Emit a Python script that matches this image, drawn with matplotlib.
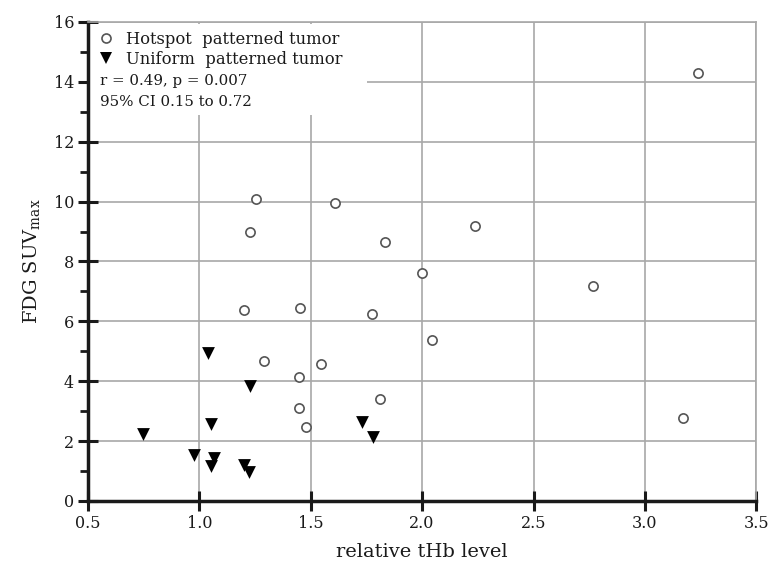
"""FDG SUVmax vs relative tHb level scatter, hotspot vs uniform tumors."""

import matplotlib

matplotlib.use("Agg")
import matplotlib.pyplot as plt  # noqa: E402
from matplotlib.lines import Line2D  # noqa: E402
from matplotlib.patches import Rectangle  # noqa: E402

plt.rcParams["font.family"] = ["DejaVu Serif"]
plt.rcParams["mathtext.fontset"] = "dejavuserif"

# Hotspot patterned tumor (open circles)
hot_thb = [1.256, 1.611, 1.226, 2.238, 1.834, 2.001, 1.202, 1.453, 1.775, 2.046,
           1.290, 1.546, 1.449, 1.449, 1.813, 1.480, 3.24, 2.768, 3.17]
hot_suv = [10.09, 9.96, 8.97, 9.17, 8.64, 7.62, 6.38, 6.45, 6.25, 5.38,
           4.67, 4.58, 4.14, 3.12, 3.39, 2.48, 14.3, 7.19, 2.78]

# Uniform patterned tumor (filled triangles)
uni_thb = [0.748, 0.977, 1.054, 1.067, 1.052, 1.200, 1.223, 1.227, 1.732, 1.778, 1.037]
uni_suv = [2.23, 1.54, 2.56, 1.43, 1.17, 1.20, 0.98, 3.85, 2.63, 2.13, 4.94]

xticks = [0.5, 1.0, 1.5, 2.0, 2.5, 3.0, 3.5]
yticks = [0, 2, 4, 6, 8, 10, 12, 14, 16]

INK = "#1a1a1a"
GRID = "#a8a8a8"

fig = plt.figure(figsize=(7.71, 5.73), dpi=100)
ax = fig.add_axes([0.114, 0.1257, 0.867, 0.836])

ax.scatter(hot_thb, hot_suv, s=44, facecolors="white", edgecolors="#555555",
           linewidths=1.2, zorder=3)
ax.scatter(uni_thb, uni_suv, s=85, marker="v", color="black", linewidths=0, zorder=3)

ax.set_xlim(0.5, 3.5)
ax.set_ylim(0, 16)
ax.set_xticks(xticks)
ax.set_xticklabels([f"{t:.1f}" for t in xticks])
ax.set_yticks(yticks)
ax.set_yticks(range(1, 16, 2), minor=True)

ax.set_axisbelow(True)
ax.grid(True, which="major", color=GRID, linewidth=1.2)

# white patch behind the legend hides the gridlines there
ax.add_patch(Rectangle((0.0, 0.806), 0.418, 0.189, transform=ax.transAxes,
                       facecolor="white", edgecolor="none", zorder=1))

for side in ("left", "bottom"):
    ax.spines[side].set_color(INK)
    ax.spines[side].set_linewidth(2.5)
for side in ("top", "right"):
    ax.spines[side].set_color(GRID)
    ax.spines[side].set_linewidth(1.2)

ax.tick_params(which="major", direction="inout", length=14, width=2.2,
               color=INK, labelcolor=INK, labelsize=11.5, pad=3)
ax.tick_params(which="minor", direction="out", length=6, width=2, color=INK)
ax.tick_params(axis="x", which="major", pad=3)

ax.set_xlabel("relative tHb level", fontsize=14, color=INK, labelpad=8)
ax.set_ylabel("FDG SUV$_{\\mathrm{max}}$", fontsize=14, color=INK, labelpad=8)

handles = [
    Line2D([], [], linestyle="none", marker="o", markersize=6.5,
           markerfacecolor="white", markeredgecolor="#555555", markeredgewidth=1.2),
    Line2D([], [], linestyle="none", marker="v", markersize=9,
           color="black", markeredgewidth=0),
]
leg = ax.legend(handles, ["Hotspot  patterned tumor", "Uniform  patterned tumor"],
                loc="upper left", bbox_to_anchor=(0.0, 1.006), frameon=False,
                fontsize=11.8, handlelength=0.8, handletextpad=0.8,
                labelspacing=0.2, borderaxespad=0.3)
for t in leg.get_texts():
    t.set_color(INK)

ax.text(0.018, 0.891, "r = 0.49, p = 0.007", transform=ax.transAxes,
        fontsize=10.8, color=INK, va="top")
ax.text(0.018, 0.847, "95% CI 0.15 to 0.72", transform=ax.transAxes,
        fontsize=10.8, color=INK, va="top")

fig.savefig("out.png", dpi=100, facecolor="white")
plt.close(fig)
